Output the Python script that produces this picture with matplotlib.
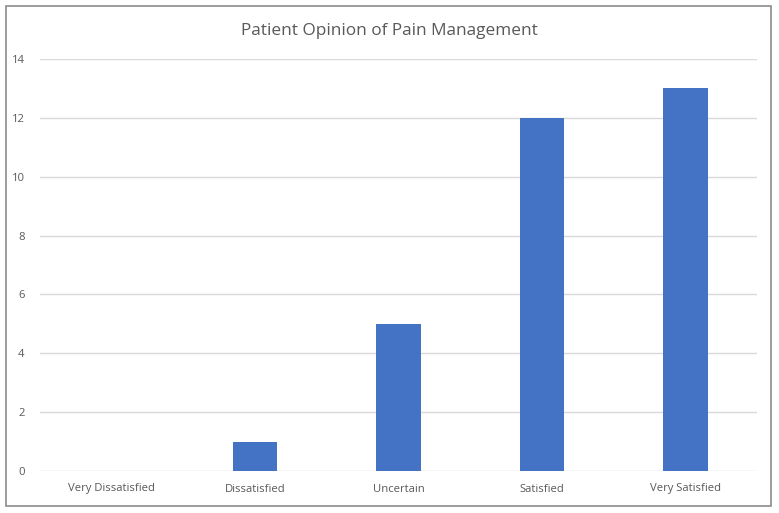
import matplotlib
matplotlib.use("Agg")
import matplotlib.pyplot as plt
from matplotlib.patches import Rectangle

categories = ["Very Dissatisfied", "Dissatisfied", "Uncertain", "Satisfied", "Very Satisfied"]
values = [0, 1, 5, 12, 13]
yticks = [0, 2, 4, 6, 8, 10, 12, 14]
title = "Patient Opinion of Pain Management"

plt.rcParams['font.family'] = ['Open Sans', 'DejaVu Sans']
W, H = 779, 513
fig = plt.figure(figsize=(W/100, H/100), dpi=100)
fig.patch.set_facecolor("white")
fig.patches.append(Rectangle((6/W, 1-506/H), (771-6)/W, (506-6)/H, transform=fig.transFigure,
                             fill=False, edgecolor="#8c8c8c", linewidth=1.2))

ax = fig.add_axes([40/W, 1-471/H, (757-40)/W, (471-59)/H])
x = list(range(len(categories)))
ax.bar(x, values, width=0.31, color="#4472C4", zorder=3)
ax.set_xlim(-0.5, len(categories)-0.5)
ax.set_ylim(0, 14)
ax.set_yticks(yticks)
ax.set_xticks(x)
ax.set_xticklabels(categories)
ax.grid(axis="y", color="#d9d9d9", linewidth=1, zorder=0)
for s in ax.spines.values():
    s.set_visible(False)
ax.tick_params(axis="both", length=0, colors="#595959", labelsize=8.1)
ax.tick_params(axis="x", pad=9)
ax.tick_params(axis="y", pad=11)
fig.text(389/W, 1-31/H, title, ha="center", va="center", fontsize=12.4, color="#595959")

fig.savefig("out.png", dpi=100)
